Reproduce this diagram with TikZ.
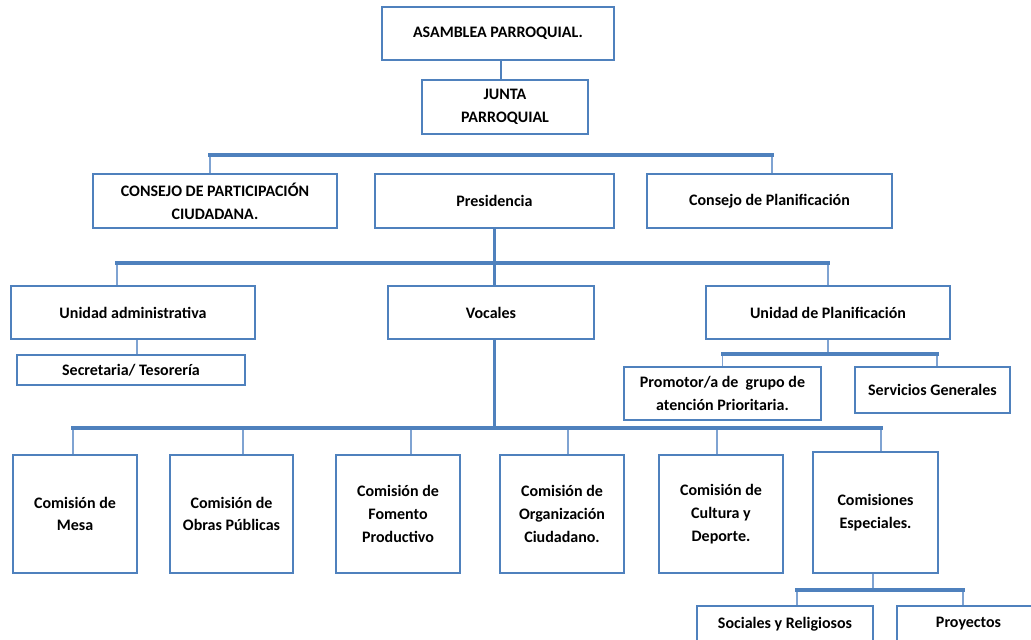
\documentclass[tikz,border=0pt]{standalone}
\usepackage{fontspec}
\setmainfont{Carlito}
\usetikzlibrary{shadows}
\definecolor{boxblue}{HTML}{4F81BD}
\definecolor{thinblue}{HTML}{7FA3D2}
\tikzset{
  box/.style={draw=boxblue, line width=2.8pt, fill=white, inner sep=0pt, align=center,
    font=\bfseries\fontsize{16}{22.7}\selectfont,
    drop shadow={shadow xshift=1.2pt, shadow yshift=-1.2pt, opacity=0.25, fill=black}},
  bar/.style={draw=boxblue, line width=3.6pt, line cap=rect},
  thick link/.style={draw=boxblue, line width=2.8pt},
  drop/.style={draw=thinblue, line width=1.8pt},
}
\begin{document}
\begin{tikzpicture}[x=1pt, y=-1pt]
\useasboundingbox (0,0) rectangle (1031,640);
\fill[white] (0,0) rectangle (1031,640);
% bar levels
\coordinate (y1) at (0,155);
\coordinate (y2) at (0,263);
\coordinate (y3) at (0,354);
\coordinate (y4) at (0,428);
\coordinate (y5) at (0,590);
% boxes
\node[box, minimum width=232pt, minimum height=53pt] (asam) at (498,33.5) {ASAMBLEA PARROQUIAL.};
\node[box, minimum width=166pt, minimum height=54pt] (junta) at (505,107) {JUNTA\\PARROQUIAL};
\node[box, minimum width=244pt, minimum height=54pt] (cpc) at (215,201) {CONSEJO DE PARTICIPACIÓN\\CIUDADANA.};
\node[box, minimum width=239pt, minimum height=54pt] (pres) at (494.5,201) {Presidencia};
\node[box, minimum width=245pt, minimum height=54pt] (cplan) at (769.5,201) {Consejo de Planificación};
\node[box, minimum width=244pt, minimum height=53pt] (uadm) at (133,312.5) {Unidad administrativa};
\node[box, minimum width=206pt, minimum height=53pt] (voc) at (491,312.5) {Vocales};
\node[box, minimum width=244pt, minimum height=53pt] (uplan) at (828,312.5) {Unidad de Planificación};
\node[box, minimum width=228pt, minimum height=30pt] (secr) at (131,370) {Secretaria/ Tesorería};
\node[box, minimum width=197pt, minimum height=53pt] (prom) at (722.5,393.5) {Promotor/a de\ \ grupo de\\atención Prioritaria.};
\node[box, minimum width=155pt, minimum height=46pt] (serv) at (932.5,390) {Servicios Generales};
\node[box, minimum width=124pt, minimum height=118pt] (mesa) at (75,514) {Comisión de\\Mesa};
\node[box, minimum width=123pt, minimum height=118pt] (obras) at (231.5,514) {Comisión de\\Obras Públicas};
\node[box, minimum width=124pt, minimum height=118pt] (fom) at (398,514) {Comisión de\\Fomento\\Productivo};
\node[box, minimum width=124pt, minimum height=118pt] (org) at (562,514) {Comisión de\\Organización\\Ciudadano.};
\node[box, minimum width=124pt, minimum height=118pt] (cult) at (721,514) {Comisión de\\Cultura y\\Deporte.};
\node[box, minimum width=125pt, minimum height=121pt] (esp) at (875.5,512.5) {Comisiones\\Especiales.};
\node[box, minimum width=176pt, minimum height=36pt] (soc) at (785,624) {Sociales y Religiosos};
\node[box, minimum width=143pt, minimum height=36pt] (proy) at (968.5,624) {Proyectos};
% Asamblea -> Junta
\draw[thick link] ([xshift=3pt]asam.south) -- ([xshift=3pt]asam.south |- junta.north);
% level 1 bar
\draw[drop] ([xshift=-5pt]cpc.north |- y1) -- ([xshift=-5pt]cpc.north);
\draw[drop] ([xshift=2.5pt]cplan.north |- y1) -- ([xshift=2.5pt]cplan.north);
\draw[bar] ([xshift=-5pt]cpc.north |- y1) -- ([xshift=2.5pt]cplan.north |- y1);
% Presidencia -> Vocales (through bar 2)
\draw[thick link] (pres.south) -- (pres.south |- voc.north);
\draw[drop] ([xshift=-16pt]uadm.north |- y2) -- ([xshift=-16pt]uadm.north);
\draw[drop] (uplan.north |- y2) -- (uplan.north);
\draw[bar] ([xshift=-16pt]uadm.north |- y2) -- (uplan.north |- y2);
% Unidad administrativa -> Secretaria
\draw[drop] ([xshift=4pt]uadm.south) -- ([xshift=4pt]uadm.south |- secr.north);
% Unidad de Planificacion -> bar 3
\draw[drop] (uplan.south) -- (uplan.south |- y3);
\draw[drop] (prom.north |- y3) -- (prom.north);
\draw[drop] ([xshift=4.5pt]serv.north |- y3) -- ([xshift=4.5pt]serv.north);
\draw[bar] (prom.north |- y3) -- ([xshift=4.5pt]serv.north |- y3);
% Vocales -> comisiones
\draw[thick link] (pres.south |- voc.south) -- (pres.south |- y4);
\draw[drop] ([xshift=-2pt]mesa.north |- y4) -- ([xshift=-2pt]mesa.north);
\draw[drop] ([xshift=11.5pt]obras.north |- y4) -- ([xshift=11.5pt]obras.north);
\draw[drop] ([xshift=13pt]fom.north |- y4) -- ([xshift=13pt]fom.north);
\draw[drop] ([xshift=6pt]org.north |- y4) -- ([xshift=6pt]org.north);
\draw[drop] ([xshift=-4pt]cult.north |- y4) -- ([xshift=-4pt]cult.north);
\draw[drop] ([xshift=5.5pt]esp.north |- y4) -- ([xshift=5.5pt]esp.north);
\draw[bar] ([xshift=-2pt]mesa.north |- y4) -- ([xshift=5.5pt]esp.north |- y4);
% Comisiones especiales -> sub
\draw[drop] ([xshift=-2.5pt]esp.south) -- ([xshift=-2.5pt]esp.south |- y5);
\draw[drop] ([xshift=12pt]soc.north |- y5) -- ([xshift=12pt]soc.north);
\draw[drop] ([xshift=-5.5pt]proy.north |- y5) -- ([xshift=-5.5pt]proy.north);
\draw[bar] ([xshift=12pt]soc.north |- y5) -- ([xshift=-5.5pt]proy.north |- y5);
\end{tikzpicture}
\end{document}
